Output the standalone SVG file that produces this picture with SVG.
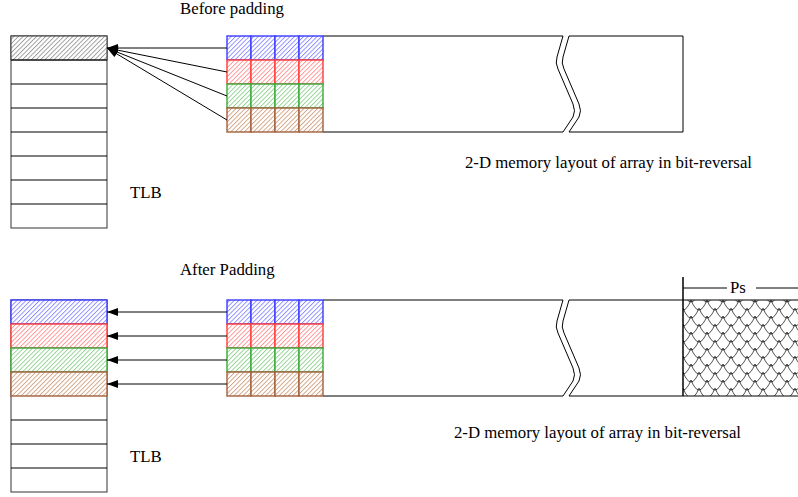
<svg xmlns="http://www.w3.org/2000/svg" width="798" height="497" viewBox="0 0 798 497">
<style>
  text { font-family: "Liberation Serif", "Times New Roman", "DejaVu Serif", serif; font-size: 16.8px; fill: #000; }
  .ln { stroke: #000; stroke-width: 1; fill: none; }
  .cell { stroke-width: 1.4; }
  .b { stroke: #3a3aff; fill: url(#hb); }
  .r { stroke: #ff3a3a; fill: url(#hr); }
  .g { stroke: #3aa83a; fill: url(#hg); }
  .o { stroke: #a0603c; fill: url(#ho); }
  .tlb { stroke: #333; stroke-width: 1; fill: #fff; }
  .arr { stroke: #000; stroke-width: 1; fill: none; marker-end: url(#ah); }
</style>
<defs>
  <pattern id="hb" patternUnits="userSpaceOnUse" width="3.2" height="3.2" patternTransform="rotate(45)"><rect width="3.2" height="3.2" fill="#fff"/><rect width="0.9" height="3.2" fill="#8a8aff"/></pattern>
  <pattern id="hr" patternUnits="userSpaceOnUse" width="3.2" height="3.2" patternTransform="rotate(45)"><rect width="3.2" height="3.2" fill="#fff"/><rect width="0.9" height="3.2" fill="#ff9090"/></pattern>
  <pattern id="hg" patternUnits="userSpaceOnUse" width="3.2" height="3.2" patternTransform="rotate(45)"><rect width="3.2" height="3.2" fill="#fff"/><rect width="0.9" height="3.2" fill="#90d090"/></pattern>
  <pattern id="ho" patternUnits="userSpaceOnUse" width="3.2" height="3.2" patternTransform="rotate(45)"><rect width="3.2" height="3.2" fill="#fff"/><rect width="0.9" height="3.2" fill="#d0a080"/></pattern>
  <pattern id="hk" patternUnits="userSpaceOnUse" width="3.2" height="3.2" patternTransform="rotate(45)"><rect width="3.2" height="3.2" fill="#fff"/><rect width="0.9" height="3.2" fill="#999"/></pattern>
  <pattern id="fish" patternUnits="userSpaceOnUse" x="683" y="300" width="16" height="16">
    <rect width="16" height="16" fill="#fff"/>
    <path d="M0,-8 Q8,12 16,-8 M-8,0 Q0,20 8,0 M8,0 Q16,20 24,0 M0,8 Q8,28 16,8 M-8,16 Q0,36 8,16 M8,16 Q16,36 24,16" stroke="#000" stroke-width="0.7" fill="none"/>
  </pattern>
  <marker id="ah" markerUnits="userSpaceOnUse" viewBox="0 0 11 8" refX="11" refY="4" markerWidth="11" markerHeight="8" orient="auto">
    <path d="M0,0 L11,4 L0,8 Z" fill="#000"/>
  </marker>
</defs>

<!-- Top section -->
<text x="180" y="14">Before padding</text>

<g id="tlb-top">
  <rect class="tlb" x="11" y="36" width="96" height="192"/>
  <rect x="11" y="36" width="96" height="24" fill="url(#hk)" stroke="#333" stroke-width="1"/>
  <path class="ln" d="M11,60H107M11,84H107M11,108H107M11,132H107M11,156H107M11,180H107M11,204H107" stroke="#333"/>
  <text x="130" y="198">TLB</text>
</g>

<g id="array-top">
  <path class="ln" d="M323,36H563M569,36H683V132H569M563,132H323"/>
  <path class="ln" d="M563,36 L557,57 Q555,63 558,69 L573,104 Q576,111 573,117 L563,132"/>
  <path class="ln" d="M569,36 L563,57 Q561,63 564,69 L579,104 Q582,111 579,117 L569,132"/>
  <g class="cell">
    <rect class="b" x="227" y="36" width="24" height="24"/><rect class="b" x="251" y="36" width="24" height="24"/><rect class="b" x="275" y="36" width="24" height="24"/><rect class="b" x="299" y="36" width="24" height="24"/>
    <rect class="r" x="227" y="60" width="24" height="24"/><rect class="r" x="251" y="60" width="24" height="24"/><rect class="r" x="275" y="60" width="24" height="24"/><rect class="r" x="299" y="60" width="24" height="24"/>
    <rect class="g" x="227" y="84" width="24" height="24"/><rect class="g" x="251" y="84" width="24" height="24"/><rect class="g" x="275" y="84" width="24" height="24"/><rect class="g" x="299" y="84" width="24" height="24"/>
    <rect class="o" x="227" y="108" width="24" height="24"/><rect class="o" x="251" y="108" width="24" height="24"/><rect class="o" x="275" y="108" width="24" height="24"/><rect class="o" x="299" y="108" width="24" height="24"/>
  </g>
  <text x="752" y="168" text-anchor="end">2-D memory layout of array in bit-reversal</text>
</g>

<!-- Bottom section -->
<text x="180" y="275">After Padding</text>

<g id="tlb-bottom">
  <rect class="tlb" x="11" y="300" width="96" height="192"/>
  <path class="ln" d="M11,420H107M11,444H107M11,468H107" stroke="#333"/>
  <g class="cell">
    <rect class="b" x="11" y="300" width="96" height="24"/>
    <rect class="r" x="11" y="324" width="96" height="24"/>
    <rect class="g" x="11" y="348" width="96" height="24"/>
    <rect class="o" x="11" y="372" width="96" height="24"/>
  </g>
  <text x="130" y="462">TLB</text>
</g>

<g id="array-bottom">
  <rect x="683" y="300" width="116" height="96" fill="url(#fish)"/>
  <path class="ln" d="M323,300H563M569,300H798M798,396H569M563,396H323"/>
  <path class="ln" d="M563,300 L557,321 Q555,327 558,333 L573,368 Q576,375 573,381 L563,396"/>
  <path class="ln" d="M569,300 L563,321 Q561,327 564,333 L579,368 Q582,375 579,381 L569,396"/>
  <path d="M683,277V396" stroke="#000" stroke-width="1.5"/>
  <g class="cell">
    <rect class="b" x="227" y="300" width="24" height="24"/><rect class="b" x="251" y="300" width="24" height="24"/><rect class="b" x="275" y="300" width="24" height="24"/><rect class="b" x="299" y="300" width="24" height="24"/>
    <rect class="r" x="227" y="324" width="24" height="24"/><rect class="r" x="251" y="324" width="24" height="24"/><rect class="r" x="275" y="324" width="24" height="24"/><rect class="r" x="299" y="324" width="24" height="24"/>
    <rect class="g" x="227" y="348" width="24" height="24"/><rect class="g" x="251" y="348" width="24" height="24"/><rect class="g" x="275" y="348" width="24" height="24"/><rect class="g" x="299" y="348" width="24" height="24"/>
    <rect class="o" x="227" y="372" width="24" height="24"/><rect class="o" x="251" y="372" width="24" height="24"/><rect class="o" x="275" y="372" width="24" height="24"/><rect class="o" x="299" y="372" width="24" height="24"/>
  </g>
  <text x="741" y="438" text-anchor="end">2-D memory layout of array in bit-reversal</text>
</g>

<g id="ps-dim">
  <path class="ln" d="M683,288H727M756,288H798"/>
  <text x="730" y="293">Ps</text>
</g>

<g id="connectors">
  <path class="arr" d="M227,48H107"/>
  <path class="arr" d="M227,72L107,48"/>
  <path class="arr" d="M227,96L107,48"/>
  <path class="arr" d="M227,120L107,48"/>
  <path class="arr" d="M227,312H107"/>
  <path class="arr" d="M227,336H107"/>
  <path class="arr" d="M227,360H107"/>
  <path class="arr" d="M227,384H107"/>
</g>
</svg>
